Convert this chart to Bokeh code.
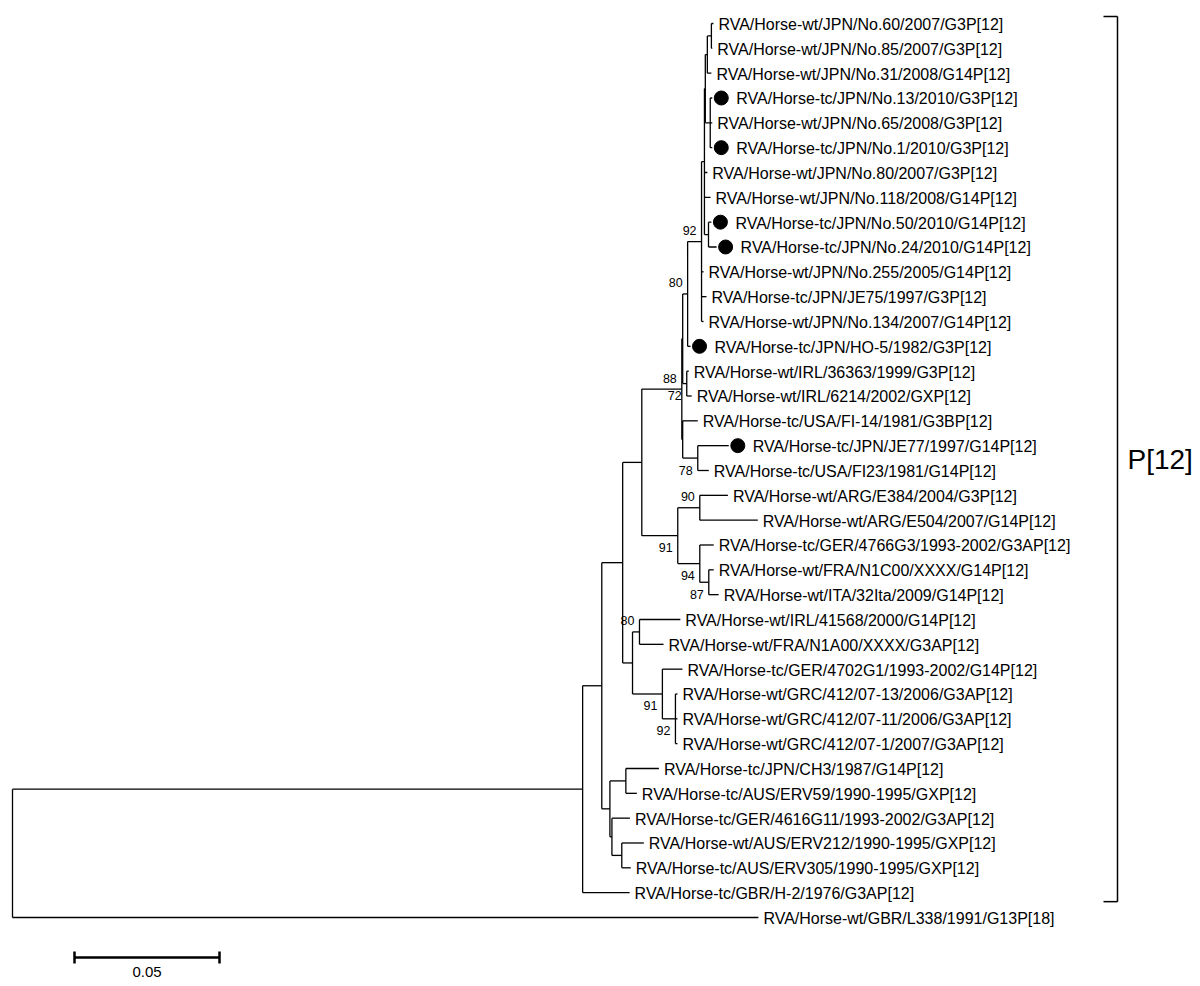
from bokeh.plotting import figure
from bokeh.models import Range1d, ColumnDataSource
from bokeh.embed import file_html
from bokeh.resources import INLINE
from bokeh.core.properties import value

# ---------------- data: tree topology and branch lengths ----------------
node_names = ["root", "A", "B", "D", "E", "F", "G", "C", "H", "J", "K", "L", "I", "N", "O",
              "P", "Q", "M", "V", "R", "S", "T", "W", "X", "Y", "Z12", "Z1", "Z1a", "Z2", "Z3"]
node_parents = [None, "root", "A", "B", "D", "D", "F", "B", "C", "H", "H", "K", "C", "I", "N",
                "N", "P", "I", "M", "M", "R", "V", "V", "W", "X", "Y", "Z12", "Z1", "Z12", "Y"]
node_lengths = [0.0, 0.1966, 0.0066, 0.0028, 0.0055, 0.0007, 0.0034, 0.0072, 0.0034, 0.0024,
                0.0103, 0.0045, 0.0066, 0.0124, 0.0076, 0.0076, 0.0031, 0.0138, 0.0003, 0.0003,
                0.0052, 0.0014, 0.0017, 0.0048, 0.0010, 0.0003, 0.0007, 0.0014, 0.0017, 0.0014]

leaf_names = [
    "RVA/Horse-wt/JPN/No.60/2007/G3P[12]",
    "RVA/Horse-wt/JPN/No.85/2007/G3P[12]",
    "RVA/Horse-wt/JPN/No.31/2008/G14P[12]",
    "RVA/Horse-tc/JPN/No.13/2010/G3P[12]",
    "RVA/Horse-wt/JPN/No.65/2008/G3P[12]",
    "RVA/Horse-tc/JPN/No.1/2010/G3P[12]",
    "RVA/Horse-wt/JPN/No.80/2007/G3P[12]",
    "RVA/Horse-wt/JPN/No.118/2008/G14P[12]",
    "RVA/Horse-tc/JPN/No.50/2010/G14P[12]",
    "RVA/Horse-tc/JPN/No.24/2010/G14P[12]",
    "RVA/Horse-wt/JPN/No.255/2005/G14P[12]",
    "RVA/Horse-tc/JPN/JE75/1997/G3P[12]",
    "RVA/Horse-wt/JPN/No.134/2007/G14P[12]",
    "RVA/Horse-tc/JPN/HO-5/1982/G3P[12]",
    "RVA/Horse-wt/IRL/36363/1999/G3P[12]",
    "RVA/Horse-wt/IRL/6214/2002/GXP[12]",
    "RVA/Horse-tc/USA/FI-14/1981/G3BP[12]",
    "RVA/Horse-tc/JPN/JE77/1997/G14P[12]",
    "RVA/Horse-tc/USA/FI23/1981/G14P[12]",
    "RVA/Horse-wt/ARG/E384/2004/G3P[12]",
    "RVA/Horse-wt/ARG/E504/2007/G14P[12]",
    "RVA/Horse-tc/GER/4766G3/1993-2002/G3AP[12]",
    "RVA/Horse-wt/FRA/N1C00/XXXX/G14P[12]",
    "RVA/Horse-wt/ITA/32Ita/2009/G14P[12]",
    "RVA/Horse-wt/IRL/41568/2000/G14P[12]",
    "RVA/Horse-wt/FRA/N1A00/XXXX/G3AP[12]",
    "RVA/Horse-tc/GER/4702G1/1993-2002/G14P[12]",
    "RVA/Horse-wt/GRC/412/07-13/2006/G3AP[12]",
    "RVA/Horse-wt/GRC/412/07-11/2006/G3AP[12]",
    "RVA/Horse-wt/GRC/412/07-1/2007/G3AP[12]",
    "RVA/Horse-tc/JPN/CH3/1987/G14P[12]",
    "RVA/Horse-tc/AUS/ERV59/1990-1995/GXP[12]",
    "RVA/Horse-tc/GER/4616G11/1993-2002/G3AP[12]",
    "RVA/Horse-wt/AUS/ERV212/1990-1995/GXP[12]",
    "RVA/Horse-tc/AUS/ERV305/1990-1995/GXP[12]",
    "RVA/Horse-tc/GBR/H-2/1976/G3AP[12]",
    "RVA/Horse-wt/GBR/L338/1991/G13P[18]",
]
leaf_parents = ["Z1a", "Z1a", "Z1", "Z2", "Z2", "Z2", "Y", "Y", "Z3", "Z3", "X", "X", "X", "W",
                "T", "T", "R", "S", "S", "O", "O", "P", "Q", "Q", "J", "J", "K", "L", "L", "L",
                "E", "E", "F", "G", "G", "A", "root"]
leaf_lengths = [0.0007, 0.0003, 0.0014, 0.0007, 0.0007, 0.0007, 0.0010, 0.0021, 0.0010, 0.0028,
                0.0007, 0.0017, 0.0007, 0.0010, 0.0007, 0.0017, 0.0052, 0.0107, 0.0038, 0.0097,
                0.0200, 0.0048, 0.0017, 0.0034, 0.0141, 0.0083, 0.0069, 0.0007, 0.0007, 0.0007,
                0.0114, 0.0038, 0.0062, 0.0076, 0.0031, 0.0162, 0.2572]
leaf_marked = [0, 0, 0, 1, 0, 1, 0, 0, 1, 1, 0, 0, 0, 1, 0, 0, 0, 1, 0, 0,
               0, 0, 0, 0, 0, 0, 0, 0, 0, 0, 0, 0, 0, 0, 0, 0, 0]

boot_nodes = ["X", "W", "M", "T", "S", "O", "N", "P", "Q", "J", "K", "L"]
boot_values = ["92", "80", "88", "72", "78", "90", "91", "94", "87", "80", "91", "92"]
boot_side = ["above", "above", "above", "below", "below", "above", "below", "below", "below",
             "above", "below", "below"]

clade_label = "P[12]"
clade_first_leaf = 0
clade_last_leaf = 35

scale_length = 0.05
scale_label = "0.05"

# ---------------- layout constants ----------------
W, H = 1200, 986
PX_PER_UNIT = 2900.0
ROOT_PX = 12.0
LEAF0_PX = 23.0
LEAF_STEP = 24.833
PAGE_OFF = 0.0
FONT = "Liberation Sans"

x0 = (PAGE_OFF - ROOT_PX) / PX_PER_UNIT
x1 = x0 + W / PX_PER_UNIT
y_top = (PAGE_OFF - LEAF0_PX) / LEAF_STEP
y_bot = y_top + H / LEAF_STEP


def dx(px):
    return px / PX_PER_UNIT


def dy(px):
    return px / LEAF_STEP


def xpx(px_abs):
    return (px_abs - ROOT_PX) / PX_PER_UNIT


# ---------------- tree layout ----------------
depth = {}
for n, par, ln in zip(node_names, node_parents, node_lengths):
    depth[n] = 0.0 if par is None else depth[par] + ln

ypos = {}
children = {n: [] for n in node_names}
leaf_depth = []
for i, (nm, par, ln) in enumerate(zip(leaf_names, leaf_parents, leaf_lengths)):
    key = "leaf%d" % i
    ypos[key] = float(i)
    depth[key] = depth[par] + ln
    leaf_depth.append(depth[key])
    children[par].append(key)
for n, par in zip(node_names, node_parents):
    if par is not None:
        children[par].append(n)
for n in reversed(node_names):
    ys = [ypos[c] for c in children[n]]
    ypos[n] = (min(ys) + max(ys)) / 2.0

parent_of = {}
for n, par in zip(node_names, node_parents):
    if par is not None:
        parent_of[n] = par
for i, par in enumerate(leaf_parents):
    parent_of["leaf%d" % i] = par

hx0, hx1, hy = [], [], []
for k, par in parent_of.items():
    hx0.append(depth[par]); hx1.append(depth[k]); hy.append(ypos[k])
vx, vy0, vy1 = [], [], []
for n in node_names:
    ys = [ypos[c] for c in children[n]]
    vx.append(depth[n]); vy0.append(min(ys)); vy1.append(max(ys))

p = figure(width=W, height=H, x_range=Range1d(x0, x1), y_range=Range1d(y_bot, y_top),
           output_backend="svg", toolbar_location=None, min_border=0, title=None)
p.axis.visible = False
p.grid.visible = False
p.outline_line_color = None
p.background_fill_color = "white"
p.border_fill_color = "white"

LW = 1.3
p.segment(x0=hx0, y0=hy, x1=hx1, y1=hy, line_color="black", line_width=LW)
p.segment(x0=vx, y0=vy0, x1=vx, y1=vy1, line_color="black", line_width=LW)

# markers
mx = [leaf_depth[i] + dx(9) for i in range(len(leaf_names)) if leaf_marked[i]]
my = [float(i) for i in range(len(leaf_names)) if leaf_marked[i]]
p.scatter(mx, my, size=14, color="black", marker="circle")

# leaf labels
src = ColumnDataSource(dict(
    x=leaf_depth, y=[float(i) for i in range(len(leaf_names))], t=leaf_names,
    off=[24 if m else 5 for m in leaf_marked]))
p.text(x="x", y="y", text="t", x_offset="off", y_offset=1, source=src,
       text_font=value(FONT), text_font_size="16px", text_baseline="middle",
       text_align="left", text_color="black")

# bootstrap labels
for side, yoff in (("above", -11), ("below", 12)):
    bx = [depth[n] for n, s in zip(boot_nodes, boot_side) if s == side]
    by = [ypos[n] for n, s in zip(boot_nodes, boot_side) if s == side]
    bt = [v for v, s in zip(boot_values, boot_side) if s == side]
    p.text(x=bx, y=by, text=bt, x_offset=-5, y_offset=yoff,
           text_font=value(FONT), text_font_size="12.5px", text_baseline="middle",
           text_align="right", text_color="black")

# clade bracket
bxr = xpx(1117)
b_top = clade_first_leaf - dy(7)
b_bot = clade_last_leaf + dy(9)
p.segment(x0=[bxr, bxr - dx(14), bxr - dx(14)], y0=[b_top, b_top, b_bot],
          x1=[bxr, bxr, bxr], y1=[b_bot, b_top, b_bot], line_color="black", line_width=1.5)
p.text(x=[bxr + dx(10)], y=[(b_top + b_bot) / 2], text=[clade_label],
       text_font=value(FONT), text_font_size="28px", text_baseline="middle",
       text_align="left", text_color="black")

# scale bar
sx0 = xpx(74)
sy = len(leaf_names) - 1 + dy(40)
p.segment(x0=[sx0, sx0, sx0 + scale_length], y0=[sy, sy - dy(6), sy - dy(6)],
          x1=[sx0 + scale_length, sx0, sx0 + scale_length], y1=[sy, sy + dy(6), sy + dy(6)],
          line_color="black", line_width=2.5)
p.text(x=[sx0 + scale_length / 2], y=[sy + dy(15)], text=[scale_label],
       text_font=value(FONT), text_font_size="15px", text_baseline="middle",
       text_align="center", text_color="black")

open("out.html", "w").write(file_html(p, INLINE))
